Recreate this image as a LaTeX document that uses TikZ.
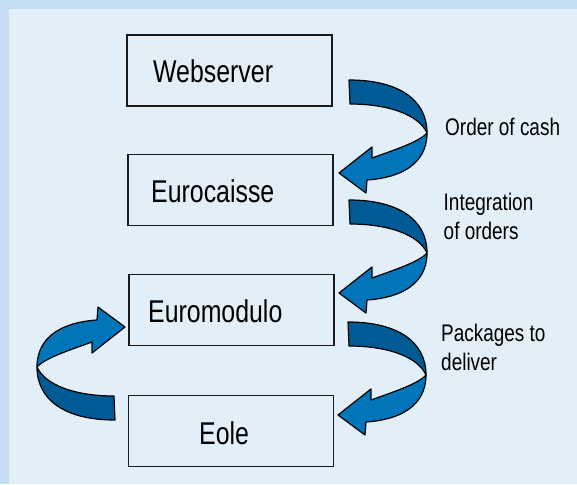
\documentclass[tikz,border=0pt]{standalone}
\usepackage{fontspec}
\newfontfamily\narrowsans[FakeStretch=0.79]{Liberation Sans}
\definecolor{outerbg}{HTML}{C3DCF1}
\definecolor{innerbg}{HTML}{E2EEF8}
\definecolor{darkband}{HTML}{005A94}
\definecolor{lightband}{HTML}{0075B9}
\definecolor{edge}{HTML}{1A1A1A}
\tikzset{
  box/.style={draw=edge,line width=1.4pt,minimum width=205pt,minimum height=71pt,inner sep=0pt},
  boxlabel/.style={anchor=base west,inner sep=0pt,font=\narrowsans\fontsize{31.5}{31.5}\selectfont,text=black},
  steplabel/.style={anchor=base west,inner sep=0pt,align=left,font=\narrowsans\fontsize{24}{28.5}\selectfont,text=black},
  bandline/.style={draw=black,line width=1.2pt,line join=round},
  curvedarrow/.pic={
    \filldraw[bandline,fill=darkband] (0,0) .. controls (50,0) and (78,20) .. (78,53)
      .. controls (70,35) and (40,24) .. (1,24) -- cycle;
    \filldraw[bandline,fill=lightband] (78,53) .. controls (78,85) and (50,98) .. (18,100)
      -- (17,113) -- (-10,93) -- (23,67) -- (23,78)
      .. controls (45,70) and (70,62) .. (78,53) -- cycle;
  }
}
\begin{document}
\begin{tikzpicture}[x=1pt,y=-1pt]
\useasboundingbox (0,0) rectangle (577,484);
\fill[outerbg] (0,0) rectangle (577,484);
\fill[innerbg] (9,9) rectangle (577,484);
% boxes
\node[box] (web) at (229.5,70.5) {};
\node[box] (cai) at (230.5,190) {};
\node[box] (mod) at (231.5,310) {};
\node[box] (eole) at (231,431) {};
% box texts
\node[boxlabel] (webt) at (153,83) {Webserver};
\node[boxlabel] (cait) at (151,202) {Eurocaisse};
\node[boxlabel] (modt) at (148,322) {Euromodulo};
\node[boxlabel] (eolet) at (199,444) {Eole};
% curved arrows
\coordinate (a1) at (349,80);
\coordinate (a2) at (349,200);
\coordinate (a3) at (348,322);
\coordinate (a4) at (115,420);
\pic at (a1) {curvedarrow};
\pic at (a2) {curvedarrow};
\pic at (a3) {curvedarrow};
\pic[rotate=180] at (a4) {curvedarrow};
% step labels
\node[steplabel] (l1) at (445,135) {Order of cash};
\node[steplabel] (l2) at (443.5,239) {Integration\\of orders};
\node[steplabel] (l3) at (441,370) {Packages to\\deliver};
\end{tikzpicture}
\end{document}
